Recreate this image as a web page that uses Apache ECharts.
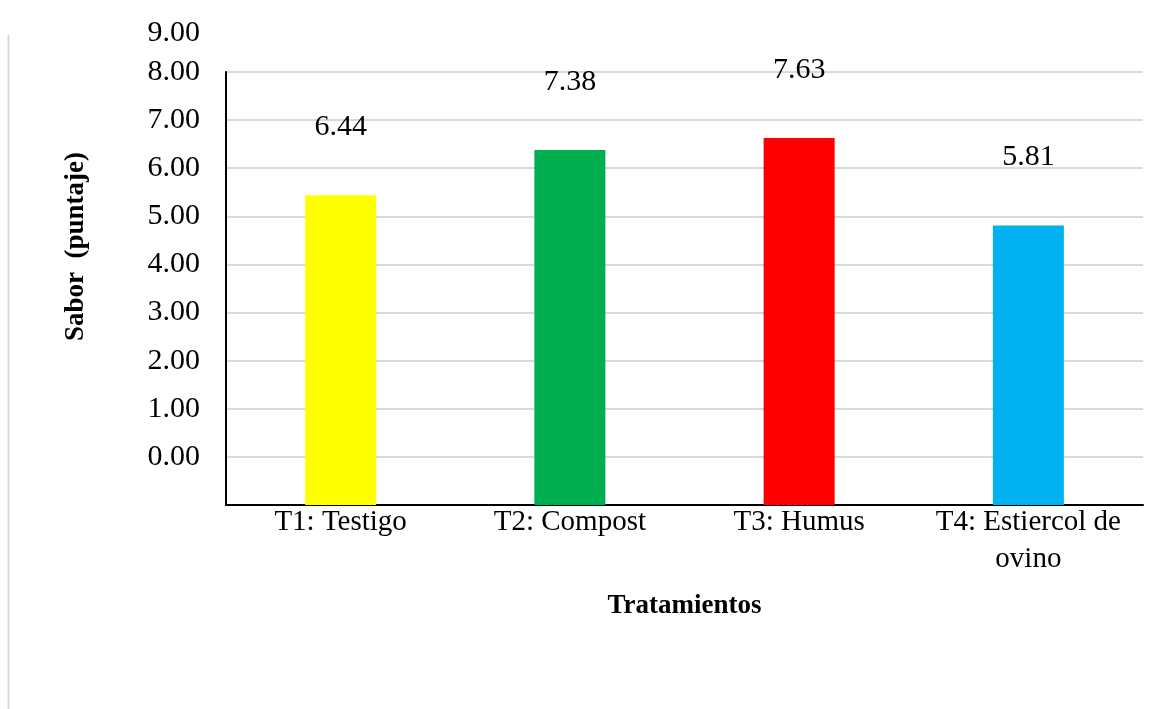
<!DOCTYPE html>
<html>
<head>
<meta charset="utf-8">
<script src="https://cdn.jsdelivr.net/npm/echarts@6/dist/echarts.min.js"></script>
<style>
	html, body { margin: 0; padding: 0; background: #fff; }
	#chart { width: 1164px; height: 709px; }
</style>
</head>
<body>
<div id="chart"></div>
<script>
	// datos del grafico
	var categorias = ["T1: Testigo", "T2: Compost", "T3: Humus", "T4: Estiercol de\novino"];
	var valores = [6.44, 7.38, 7.63, 5.81];
	var colores = ["#FFFF00", "#00B050", "#FF0000", "#00B0F0"];
	// etiquetas del eje Y tal como aparecen (desplazadas una linea)
	var etiquetasY = ["0.00", "1.00", "2.00", "3.00", "4.00", "5.00", "6.00", "7.00", "8.00"];
	var etiquetaSuperior = "9.00";

	var fuente = "'Liberation Serif', 'Times New Roman', serif";

	var chart = echarts.init(document.getElementById("chart"));
	var option = {
		backgroundColor: "#ffffff",
		animation: false,
		grid: { left: 226, right: 21, top: 72, bottom: 204 },
		graphic: [{
			type: "line",
			shape: { x1: 8.5, y1: 35, x2: 8.5, y2: 709 },
			style: { stroke: "#d9d9d9", lineWidth: 2 }
		}, {
			type: "text",
			left: 63,
			top: 152,
			rotation: Math.PI / 2,
			style: {
				text: "Sabor  (puntaje)",
				font: "bold 27px " + fuente,
				fill: "#000",
				align: "center",
				verticalAlign: "middle"
			}
		}],
		xAxis: {
			type: "category",
			data: categorias,
			axisLine: { lineStyle: { color: "#000", width: 2 } },
			axisTick: { show: false },
			axisLabel: {
				color: "#000",
				fontFamily: fuente,
				fontSize: 29,
				margin: -1,
				lineHeight: 37,
				interval: 0
			},
			name: "Tratamientos",
			nameLocation: "middle",
			nameGap: 88,
			nameTextStyle: { color: "#000", fontFamily: fuente, fontSize: 27, fontWeight: "bold" }
		},
		yAxis: [{
			type: "value",
			min: 0,
			max: 9,
			interval: 1,
			axisLine: { show: true, lineStyle: { color: "#000", width: 2 } },
			axisTick: { show: false },
			splitLine: { lineStyle: { color: "#d9d9d9", width: 2 } },
			axisLabel: {
				color: "#000",
				fontFamily: fuente,
				fontSize: 30,
				margin: 26,
				formatter: function(v) {
					return v >= 1 ? etiquetasY[v - 1] : "";
				}
			}
		}, {
			type: "value",
			position: "left",
			min: 0,
			max: 9,
			interval: 1,
			axisLine: { show: false },
			axisTick: { show: false },
			axisLabel: { show: false },
			splitLine: { show: false },
			name: etiquetaSuperior,
			nameLocation: "end",
			nameGap: 24,
			nameTextStyle: {
				color: "#000",
				fontFamily: fuente,
				fontSize: 30,
				align: "right",
				padding: [0, 26, 0, 0]
			}
		}],
		series: [{
			type: "bar",
			barWidth: 71,
			data: valores.map(function(v, i) {
				return { value: v, itemStyle: { color: colores[i] } };
			}),
			label: {
				show: true,
				position: "top",
				distance: 53,
				color: "#000",
				fontFamily: fuente,
				fontSize: 30,
				formatter: function(p) { return p.value.toFixed(2); }
			}
		}]
	};
	chart.setOption(option);
</script>
</body>
</html>
